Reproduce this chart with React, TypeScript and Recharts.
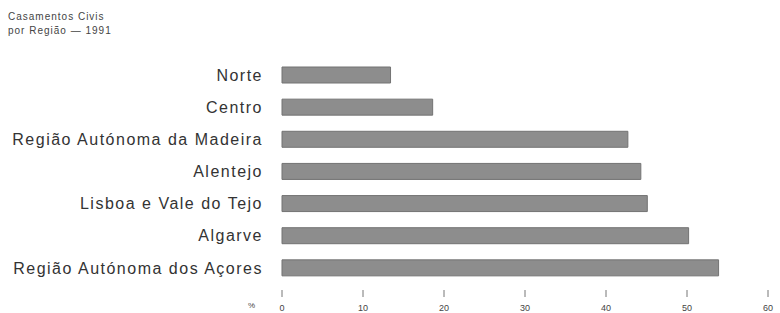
import React from "react";
import { Bar, BarChart, XAxis, YAxis } from "recharts";

const regions = [
  "Norte",
  "Centro",
  "Região Autónoma da Madeira",
  "Alentejo",
  "Lisboa e Vale do Tejo",
  "Algarve",
  "Região Autónoma dos Açores",
];
const percent = [13.4, 18.6, 42.7, 44.3, 45.1, 50.2, 53.9];
const xTicks = [0, 10, 20, 30, 40, 50, 60];

const data = regions.map((name, i) => ({ name, value: percent[i] }));

const FONT = "'Liberation Sans', Arial, sans-serif";

function ValueTick(props: any) {
  const { x, y, payload } = props;
  return (
    <g>
      <line x1={x} x2={x} y1={y + 6} y2={y + 13} stroke="#777" strokeWidth={1} />
      <text x={x} y={y + 27} textAnchor="middle" fontSize={9} fill="#444" fontFamily={FONT}>
        {payload.value}
      </text>
    </g>
  );
}

export default function App() {
  return (
    <div style={{ position: "relative", width: 780, height: 313, background: "#fff", fontFamily: FONT }}>
      <style>{"body{margin:0}"}</style>
      <div
        style={{
          position: "absolute",
          left: 8,
          top: 10,
          fontSize: 10,
          lineHeight: "14px",
          letterSpacing: 1,
          color: "#444",
        }}
      >
        Casamentos Civis
        <br />
        por Região — 1991
      </div>
      <div style={{ position: "absolute", left: 248, top: 301, fontSize: 8, color: "#444" }}>%</div>
      <BarChart
        width={780}
        height={313}
        data={data}
        layout="vertical"
        margin={{ top: 59, right: 12, bottom: 0, left: 0 }}
        barCategoryGap={8}
      >
        <XAxis
          type="number"
          domain={[0, 60]}
          ticks={xTicks}
          axisLine={false}
          tickLine={false}
          tickSize={0}
          tickMargin={0}
          height={29}
          tick={<ValueTick />}
          interval={0}
        />
        <YAxis
          type="category"
          dataKey="name"
          width={282}
          axisLine={false}
          tickLine={false}
          tickSize={0}
          tickMargin={19}
          interval={0}
          tick={{ fontSize: 16, fill: "#333", fontFamily: FONT, letterSpacing: 1.5 }}
        />
        <Bar dataKey="value" fill="#8d8d8d" stroke="#737373" strokeWidth={1} barSize={16} isAnimationActive={false} />
      </BarChart>
    </div>
  );
}
